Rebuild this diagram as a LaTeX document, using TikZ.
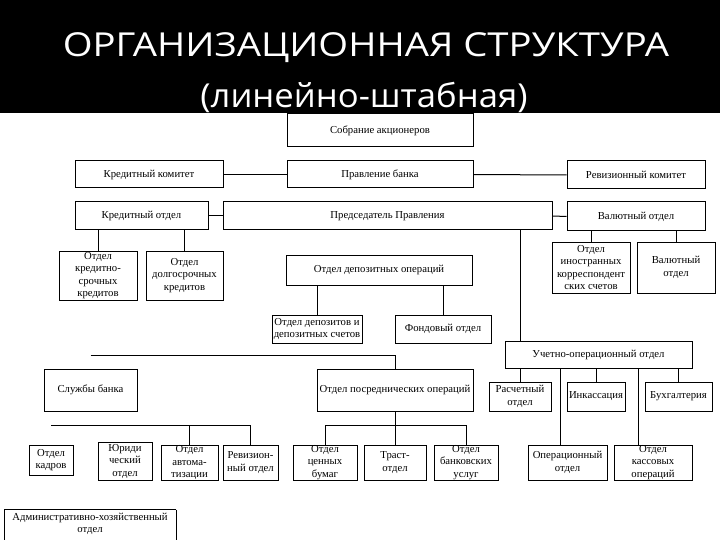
\documentclass[tikz,border=0pt]{standalone}
\usepackage{graphicx}
\usepackage{fontspec}
\setmainfont{Liberation Serif}
\newfontfamily\titlefont{Open Sans}
\newcommand\obox[6]{\node[box, minimum width={(#4-#2)*1pt}, minimum height={(#5-#3)*1pt}] (#1) at ({(#2+#4)/2},{(#3+#5)/2}) {#6};}
\begin{document}
\begin{tikzpicture}[x=1pt,y=-1pt,
  box/.style={draw, line width=1pt, inner sep=0pt, align=center, font=\fontsize{10.7}{12.5}\selectfont},
  conn/.style={line width=1pt},
  ttl/.style={text=white, inner sep=0pt, font=\titlefont\fontsize{33}{36}\selectfont}]
\useasboundingbox (0,0) rectangle (720,540);
\fill[white] (0,0) rectangle (720,540);
\fill[black] (0,0) rectangle (720,113);
\node[ttl] (t1) at (366,48) {\scalebox{1.16}[1]{ОРГАНИЗАЦИОННАЯ СТРУКТУРА}};
\node[ttl] (t2) at (364,97) {\scalebox{1.05}[1]{(линейно-штабная)}};
% row 1-3
\obox{sobr}{287}{114}{473}{147}{Собрание акционеров}
\obox{kredkom}{75}{161}{223}{188}{Кредитный комитет}
\obox{pravl}{287}{161}{473}{188}{Правление банка}
\obox{revkom}{567}{161}{705}{189}{Ревизионный комитет}
\obox{kredotd}{75}{202}{208}{230}{Кредитный отдел}
\obox{pred}{223}{202}{552}{230}{Председатель Правления}
\obox{valotd}{567}{202}{705}{231}{Валютный отдел}
% row 4
\obox{otdks}{59}{251}{137}{300}{Отдел\\кредитно-\\срочных\\кредитов}
\obox{otddk}{146}{251}{223}{300}{Отдел\\долгосрочных\\кредитов}
\obox{depop}{286}{255}{472}{285}{Отдел депозитных операций}
\obox{inkor}{552}{242}{630}{293}{Отдел\\иностранных\\корреспондент\\ских счетов}
\obox{val2}{637}{242}{715}{293}{Валютный\\отдел}
\obox{depsch}{272}{315}{362}{343}{Отдел депозитов и\\депозитных счетов}
\obox{fond}{395}{315}{491}{343}{Фондовый отдел}
\obox{uchet}{505}{341}{692}{368}{Учетно-операционный отдел}
% row 5
\obox{sluzh}{44}{369}{137}{411}{Службы банка}
\obox{posr}{317}{369}{473}{411}{Отдел посреднических операций}
\obox{rasch}{489}{382}{551}{411}{Расчетный\\отдел}
\obox{inkas}{567}{382}{625}{411}{Инкассация}
\obox{buh}{645}{382}{712}{411}{Бухгалтерия}
% row 6
\obox{kadr}{29}{445}{73}{475}{Отдел\\кадров}
\obox{yur}{98}{442}{152}{480}{Юриди\\ческий\\отдел}
\obox{avt}{161}{445}{218}{480}{Отдел\\автома-\\тизации}
\obox{rev2}{223}{445}{278}{480}{Ревизион-\\ный отдел}
\obox{cenn}{293}{445}{357}{480}{Отдел\\ценных\\бумаг}
\obox{trast}{364}{445}{426}{480}{Траст-\\отдел}
\obox{bank}{434}{445}{498}{480}{Отдел\\банковских\\услуг}
\obox{oper}{528}{445}{607}{480}{Операционный\\отдел}
\obox{kass}{614}{445}{692}{480}{Отдел\\кассовых\\операций}
% administrative box, continuing past the lower edge
\node[box, draw=none, minimum width=171pt, minimum height=28pt] (adm) at (90,524) {Административно-хозяйственный\\отдел};
\draw[conn] (adm.north west) -- (adm.north east);
\draw[conn] (adm.north west) -- ++(0,32);
\draw[conn] (adm.north east) -- ++(0,32);
% connectors
\draw[conn] (kredkom.east) -- (pravl.west);
\draw[conn] (pravl.east) -- (revkom.west);
\draw[conn] (kredotd.east) -- (pred.west);
\draw[conn] (pred.east) -- (valotd.west);
\draw[conn] (otdks.north |- kredotd.south) -- (otdks.north);
\draw[conn] (otddk.north |- kredotd.south) -- (otddk.north);
\draw[conn] (inkor.north |- valotd.south) -- (inkor.north);
\draw[conn] (val2.north |- valotd.south) -- (val2.north);
\draw[conn] (depsch.north |- depop.south) -- (depsch.north);
\draw[conn] (fond.north |- depop.south) -- (fond.north);
\draw[conn] (rasch.north |- pred.south) -- (rasch.north |- uchet.north);
\draw[conn] (rasch.north |- uchet.south) -- (rasch.north);
\draw[conn] (inkas.north |- uchet.south) -- (inkas.north);
\draw[conn] (buh.north |- uchet.south) -- (buh.north);
\coordinate (lx1) at (560,0);
\coordinate (lx2) at (638,0);
\draw[conn] (uchet.south -| lx1) -- (oper.north -| lx1);
\draw[conn] (uchet.south -| lx2) -- (kass.north -| lx2);
\coordinate (sbus) at (sluzh.north |- 0,355);
\draw[conn] (sbus) -| (posr.north);
\coordinate (pbus) at (0,425);
\draw[conn] (posr.south) -- (posr.south |- pbus);
\draw[conn] (cenn.north |- pbus) -- (bank.north |- pbus);
\draw[conn] (cenn.north |- pbus) -- (cenn.north);
\draw[conn] (trast.north |- pbus) -- (trast.north);
\draw[conn] (bank.north |- pbus) -- (bank.north);
\draw[conn] (kadr.north |- pbus) -- (rev2.north |- pbus);
\draw[conn] (avt.north |- pbus) -- (avt.north);
\draw[conn] (rev2.north |- pbus) -- (rev2.north);
\end{tikzpicture}
\end{document}
